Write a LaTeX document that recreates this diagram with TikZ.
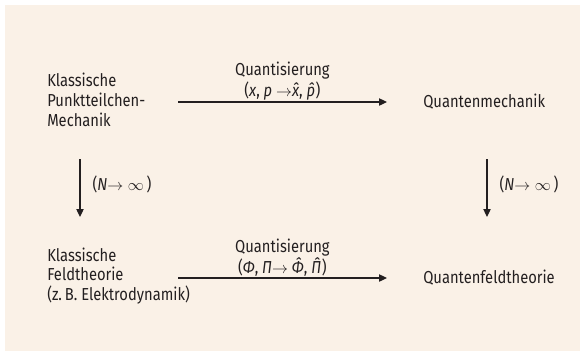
\documentclass[tikz,border=0pt]{standalone}
\usepackage{fontspec}
\setmainfont{Fira Sans}[FakeStretch=0.85]
\usepackage{tikz}
\usetikzlibrary{arrows.meta}

\definecolor{bgbeige}{HTML}{FAF1E7}
\definecolor{inkgray}{HTML}{231F20}

\tikzset{
  term/.style={anchor=west, align=left, inner sep=0pt, text=inkgray,
    font=\fontsize{13}{14.8}\selectfont},
  lbl/.style={inner sep=0pt, text=inkgray, align=center,
    font=\fontsize{13}{15.8}\selectfont},
  arr/.style={-{Triangle[length=6pt,width=5.5pt]}, line width=0.9pt, inkgray},
}

\begin{document}
\begin{tikzpicture}[x=0.75pt,y=-0.75pt]
  \useasboundingbox (0,0) rectangle (580,351);
  \fill[bgbeige] (5,5) rectangle (580,351);

  % the four theories
  \node[term] (pm) at (47,100) {Klassische\\Punktteilchen-\\Mechanik};
  \node[term] (qm) at (423,102) {Quantenmechanik};
  \node[term] (fd) at (47,276) {Klassische\\Feldtheorie\\(z.\,B. Elektrodynamik)};
  \node[term] (qf) at (423,278) {Quantenfeldtheorie};

  % quantisation
  \draw[arr, shorten <=98.25pt, shorten >=27pt] (pm.west |- qm.west) -- (qm.west)
    node[lbl, pos=0.626, above=0.5pt] {Quantisierung\\(\textit{x}, \textit{p} $\rightarrow$\textit{x̂}, \textit{p̂})};
  \draw[arr, shorten <=98.25pt, shorten >=27pt] (fd.west |- qf.west) -- (qf.west)
    node[lbl, pos=0.626, above=0.5pt] {Quantisierung\\(\textit{Φ}, \textit{Π}$\rightarrow$ \textit{Φ̂}, \textit{Π̂})};

  % continuum limit
  \draw[arr, shorten <=44.25pt, shorten >=44.25pt] ([xshift=24.75pt]pm.west) -- ([xshift=24.75pt]fd.west)
    node[lbl, pos=0.48, right=9pt] {(\textit{N}$\rightarrow\infty$\,)};
  \draw[arr, shorten <=42.75pt, shorten >=45.75pt] ([xshift=48pt]qm.west) -- ([xshift=48pt]qf.west)
    node[lbl, pos=0.47, right=9pt] {(\textit{N}$\rightarrow\infty$\,)};
\end{tikzpicture}
\end{document}
